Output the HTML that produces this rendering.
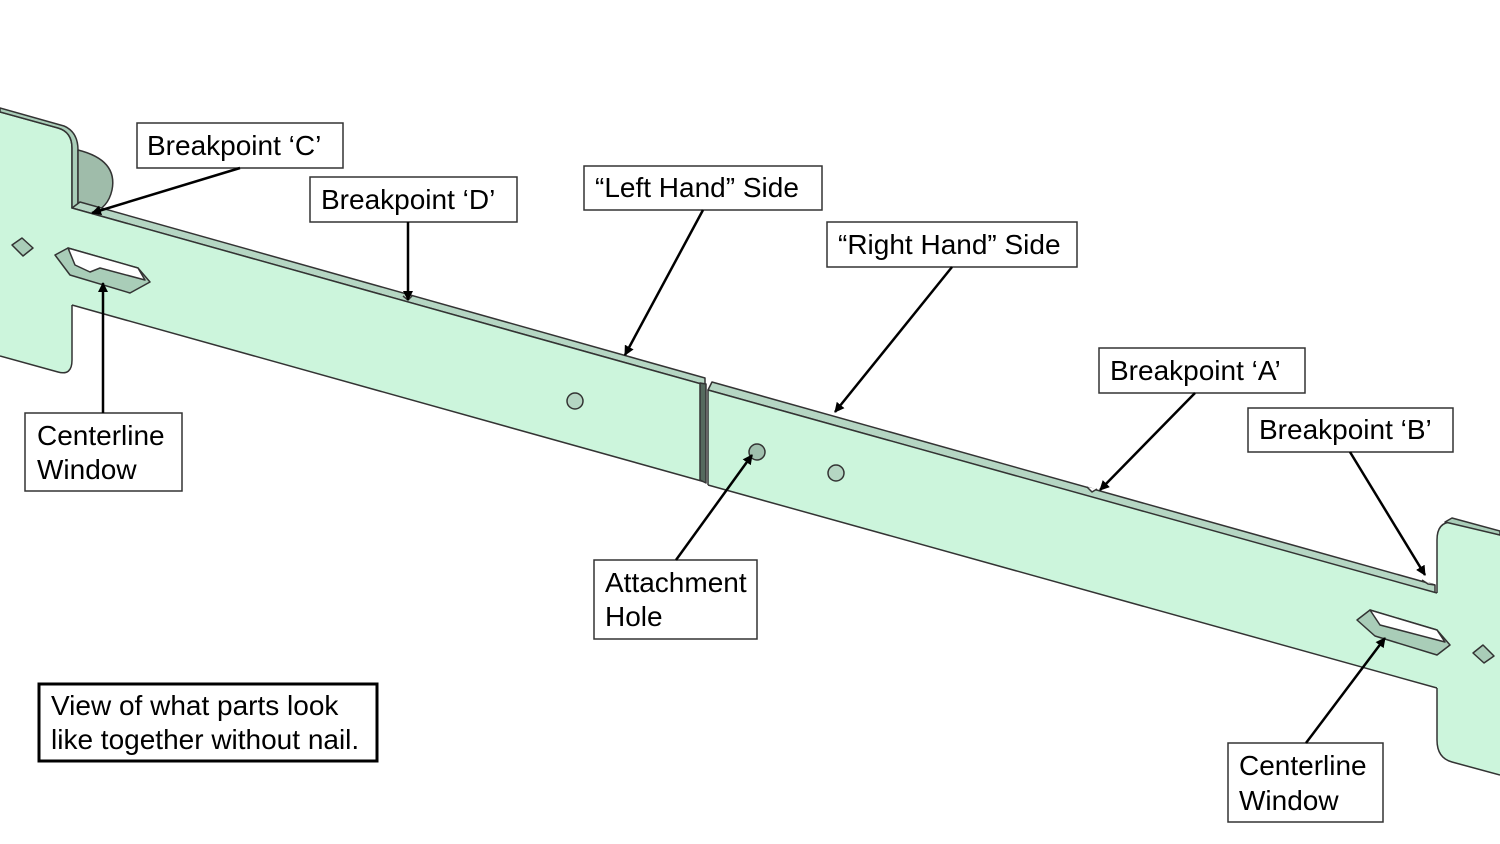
<!DOCTYPE html>
<html><head><meta charset="utf-8"><style>
html,body{margin:0;padding:0;background:#fff;}
svg{display:block;}
text{font-family:"Liberation Sans",Arial,sans-serif;font-size:28px;fill:#000;}
</style></head><body>
<svg width="1500" height="844" viewBox="0 0 1500 844" xmlns="http://www.w3.org/2000/svg">
<defs>
<marker id="ah" markerWidth="10" markerHeight="10" refX="9" refY="5" orient="auto" markerUnits="userSpaceOnUse">
<path d="M0,0 L10,5 L0,10 z" fill="#000"/></marker>
</defs>
<g stroke="#333" stroke-width="1.5" stroke-linejoin="round">
<!-- left plate -->
<path d="M0,112 L58,128 Q72,132 72,148 L72,208 L90,260 L72,305 L72,360 Q72,376 58,372 L0,356 Z" fill="#ccf5dc" stroke="none"/>
<path d="M0,112 L58,128 Q72,132 72,148 L72,208 M72,305 L72,360 Q72,376 58,372 L0,356" fill="none"/>
<path d="M0,112 L58,128 Q72,132 72,148 L72,208 L78,208 L78,150 Q78,132 64,126 L0,108 Z" fill="#a9cdb8"/>
<path d="M78,150 Q118,160 112,190 Q108,208 92,213 L78,208 Z" fill="#9fbcaa"/>
<!-- bar left part with flange -->
<path d="M72,208 L705,385 L705,378 L80,202 Z" fill="#b5d6c3"/>
<path d="M72,208 L705,385 L705,482 L72,305 Z" fill="#ccf5dc" stroke="none"/>
<path d="M72,208 L705,385 M705,482 L72,305" fill="none"/>
<path d="M700,383 L700,480 L706,483 L706,384 Z" fill="#556a5e"/>
<!-- bar right part -->
<path d="M708,390 L1435,593 L1435,585 L712,382 Z" fill="#b5d6c3"/>
<path d="M708,390 L1437,593 L1437,688 L708,485 Z" fill="#ccf5dc" stroke="none"/>
<path d="M708,485 L708,390 L1437,593 M1437,688 L708,485" fill="none"/>
<!-- right plate -->
<path d="M1437,593 L1437,540 Q1437,522 1452,522 L1500,535 L1500,775 L1452,762 Q1437,758 1437,740 L1437,688 Z" fill="#ccf5dc" stroke="none"/>
<path d="M1437,593 L1437,540 Q1437,522 1452,522 L1500,535 M1500,775 L1452,762 Q1437,758 1437,740 L1437,688" fill="none"/>
<path d="M1445,522 L1452,518 L1500,531 L1500,535 Z" fill="#a9cdb8"/>
<!-- breakpoint notches -->
<path d="M403,296 L408,300 L412,296" fill="#fff"/>
<path d="M1087,487 L1092,492 L1097,489" fill="#fff"/>
<path d="M1422,580 L1428,584 L1435,585" fill="#fff"/>
<!-- windows -->
<path d="M55,255 L68,248 L138,268 L150,282 L130,293 L70,275 Z" fill="#a9cdb8"/>
<path d="M68,248 L138,268 L145,280 L100,268 L90,272 L75,265 Z" fill="#fff"/>
<path d="M1357,620 L1370,610 L1437,630 L1450,645 L1437,655 L1375,636 Z" fill="#a9cdb8"/>
<path d="M1370,610 L1437,630 L1445,642 L1380,625 Z" fill="#fff"/>
<path d="M12,245 L22,238 L33,248 L23,256 Z" fill="#a9cdb8"/>
<path d="M1473,653 L1483,645 L1494,656 L1484,663 Z" fill="#a9cdb8"/>
<!-- holes -->
<ellipse cx="575" cy="401" rx="8" ry="8" fill="#b5d6c3"/>
<ellipse cx="836" cy="473" rx="8" ry="8" fill="#b5d6c3"/>
<ellipse cx="757" cy="452" rx="8" ry="8" fill="#a0c0ae"/>
</g>
<g fill="#fff" stroke="#333" stroke-width="1.5">
<rect x="137" y="123" width="206" height="45"/>
<rect x="310" y="177" width="207" height="45"/>
<rect x="584" y="166" width="238" height="44"/>
<rect x="827" y="222" width="250" height="45"/>
<rect x="1099" y="348" width="206" height="45"/>
<rect x="1248" y="408" width="205" height="44"/>
<rect x="25" y="413" width="157" height="78"/>
<rect x="594" y="560" width="163" height="79"/>
<rect x="1228" y="743" width="155" height="79"/>
</g>
<rect x="39" y="684" width="338" height="77" fill="#fff" stroke="#000" stroke-width="3"/>
<g stroke="#000" stroke-width="2.5" marker-end="url(#ah)">
<line x1="240" y1="168" x2="92" y2="213"/>
<line x1="408" y1="222" x2="408" y2="300"/>
<line x1="703" y1="210" x2="625" y2="355"/>
<line x1="952" y1="267" x2="835" y2="412"/>
<line x1="1195" y1="393" x2="1100" y2="490"/>
<line x1="1350" y1="452" x2="1425" y2="575"/>
<line x1="103" y1="413" x2="103" y2="283"/>
<line x1="676" y1="560" x2="752" y2="455"/>
<line x1="1306" y1="743" x2="1385" y2="638"/>
</g>
<text x="147" y="155">Breakpoint ‘C’</text>
<text x="321" y="209">Breakpoint ‘D’</text>
<text x="595" y="197">“Left Hand” Side</text>
<text x="838" y="254">“Right Hand” Side</text>
<text x="1110" y="380">Breakpoint ‘A’</text>
<text x="1259" y="439">Breakpoint ‘B’</text>
<text x="37" y="445">Centerline</text>
<text x="37" y="479">Window</text>
<text x="605" y="592">Attachment</text>
<text x="605" y="626">Hole</text>
<text x="1239" y="775">Centerline</text>
<text x="1239" y="810">Window</text>
<text x="51" y="715">View of what parts look</text>
<text x="51" y="749">like together without nail.</text>
</svg>
</body></html>
